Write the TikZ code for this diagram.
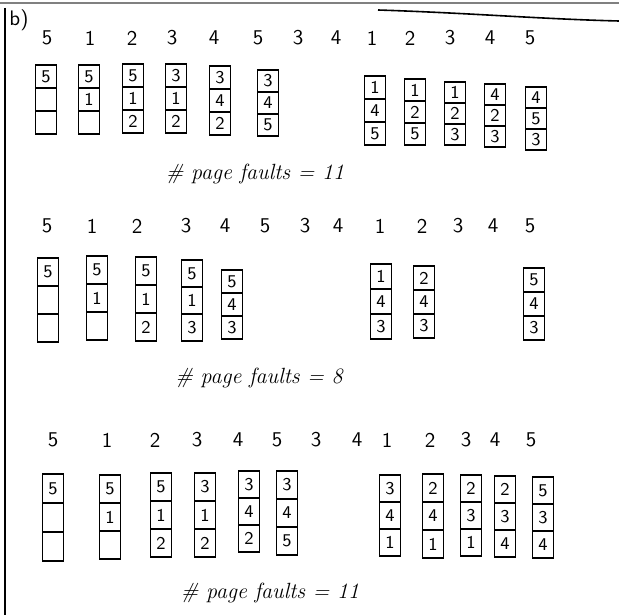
\documentclass[tikz,border=0pt]{standalone}
\usetikzlibrary{positioning}

\begin{document}
\begin{tikzpicture}[x=0.5pt, y=-0.5pt,
	cell/.style={draw, thick, rectangle, minimum width=10.5pt, inner sep=0pt, outer sep=0pt, font=\sffamily\small},
	ref/.style={font=\sffamily\fontsize{10.5}{12}\selectfont},
	total/.style={font=\fontsize{11}{13}\selectfont\itshape}]
	\useasboundingbox (0,0) rectangle (619,615);
	% sheet edges
	\draw[gray, line width=1pt] (0,3) -- (619,3);
	\draw[thick] (5,8) -- (5,615);
	\draw[thick] (378,10) .. controls (470,13) and (540,19) .. (619,21);
	\node[ref] (part) at (19,20) {b)};
	% reference strings
	\foreach \x/\v [count=\i] in {47/5,90/1,132/2,172/3,214/4,258/5,298/3,336/4,372/1,410/2,450/3,490/4,530/5}
		\node[ref] (ra\i) at (\x,38) {\v};
	\foreach \x/\v [count=\i] in {47/5,92/1,137/2,186/3,225/4,265/5,305/3,338/4,380/1,422/2,458/3,493/4,530/5}
		\node[ref] (rb\i) at (\x,226) {\v};
	\foreach \x/\v [count=\i] in {53/5,107/1,155/2,197/3,238/4,277/5,316/3,357/4,387/1,430/2,466/3,495/4,531/5}
		\node[ref] (rc\i) at (\x,440) {\v};
	% frames: x/top/cell height/three pages
	\foreach \x/\y/\h/\a/\b/\c [count=\i] in {
		46/65/23/5/{}/{}, 89/65/23/5/1/{}, 133/64/23/5/1/2, 176/64/23/3/1/2, 220/66/23/3/4/2, 268/70/22/3/4/5,
		375/76/23/1/4/5, 415/79/22/1/2/5, 455/82/21/1/2/3, 495/84/21/4/2/3, 536/87/21/4/5/3,
		48/258/28/5/{}/{}, 97/256/28/5/1/{}, 146/257/28/5/1/2, 192/260/27/5/1/3, 232/270/23/5/4/3,
		381/264/25/1/4/3, 424/266/24/2/4/3, 534/268/24/5/4/3,
		53/474/29/5/{}/{}, 110/475/28/5/1/{}, 161/473/28/5/1/2, 205/473/28/3/1/2, 249/471/27/3/4/2, 287/471/28/3/4/5,
		390/475/27/3/4/1, 433/474/28/2/4/1, 471/475/27/2/3/1, 505/476/27/2/3/4, 543/477/27/5/3/4}
	{
		\node[cell, minimum height=\h*0.5pt, anchor=north] (fa\i) at (\x,\y) {\a};
		\node[cell, minimum height=\h*0.5pt, below=0pt of fa\i] (fb\i) {\b};
		\node[cell, minimum height=\h*0.5pt, below=0pt of fb\i] (fc\i) {\c};
	}
	% totals
	\node[total] (pf1) at (255,174) {\# page faults = 11};
	\node[total] (pf2) at (259,378) {\# page faults = 8};
	\node[total] (pf3) at (270,593) {\# page faults = 11};
\end{tikzpicture}
\end{document}
